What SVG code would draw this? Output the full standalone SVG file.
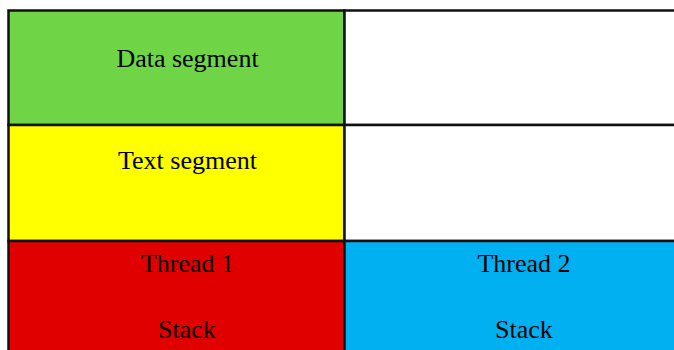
<svg xmlns="http://www.w3.org/2000/svg" width="674" height="350" viewBox="0 0 674 350">
  <style>
    .cell { stroke: #111; stroke-width: 2.5; }
    .lbl { font-family: "Liberation Serif", "Times New Roman", serif; font-size: 26px; fill: #000; text-anchor: middle; }
  </style>
  <rect width="674" height="350" fill="#fff"/>
  <g id="data-segment">
    <rect class="cell" x="8.5" y="10.5" width="336" height="114.5" fill="#70d447"/>
    <text class="lbl" x="187.5" y="67">Data segment</text>
  </g>
  <g id="data-free">
    <rect class="cell" x="344.5" y="10.5" width="340" height="114.5" fill="#fff"/>
  </g>
  <g id="text-segment">
    <rect class="cell" x="8.5" y="125" width="336" height="116" fill="#ffff00"/>
    <text class="lbl" x="187.5" y="169">Text segment</text>
  </g>
  <g id="text-free">
    <rect class="cell" x="344.5" y="125" width="340" height="116" fill="#fff"/>
  </g>
  <g id="thread-1">
    <rect class="cell" x="8.5" y="241" width="336" height="120" fill="#e00000"/>
    <text class="lbl" x="187.5" y="271.5">Thread 1</text>
    <text class="lbl" x="187" y="338">Stack</text>
  </g>
  <g id="thread-2">
    <rect class="cell" x="344.5" y="241" width="340" height="120" fill="#00b0f0"/>
    <text class="lbl" x="524" y="271.5">Thread 2</text>
    <text class="lbl" x="524" y="338">Stack</text>
  </g>
  <g id="connectors"></g>
</svg>
